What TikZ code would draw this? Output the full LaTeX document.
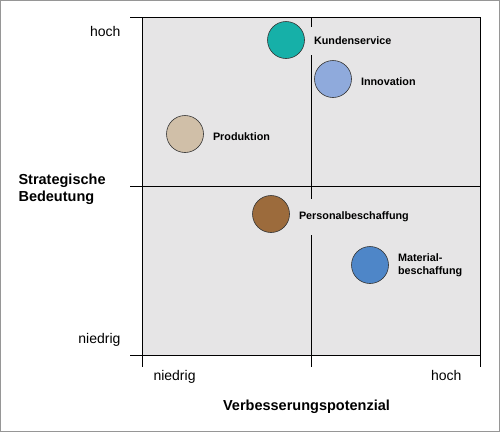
\documentclass[tikz,border=0pt]{standalone}
\usepackage{fontspec}
\setmainfont{Liberation Sans}
\usetikzlibrary{positioning}
\definecolor{feldgrau}{RGB}{230,229,230}
\definecolor{rahmengrau}{RGB}{150,150,150}
\definecolor{kundenfarbe}{RGB}{22,176,168}
\definecolor{innofarbe}{RGB}{143,170,220}
\definecolor{prodfarbe}{RGB}{208,191,168}
\definecolor{persfarbe}{RGB}{156,107,60}
\definecolor{matfarbe}{RGB}{78,134,200}
\tikzset{
  punkt/.style={circle, draw=black!80, line width=0.6pt, minimum size=37pt, inner sep=0pt},
  bereich/.style={font=\bfseries\fontsize{10.8}{13}\selectfont, fill=feldgrau, inner xsep=5pt, inner ysep=10pt, align=left, right=4pt of #1},
  achse/.style={font=\fontsize{14}{16}\selectfont},
  titel/.style={font=\bfseries\fontsize{14.5}{16.5}\selectfont, align=left},
}

\begin{document}
\begin{tikzpicture}[x=1pt, y=-1pt]
		%%%%% START %%%%%
		\useasboundingbox (0, 0) rectangle (500, 432);
		\draw[rahmengrau, line width=1pt] (0.5, 0.5) rectangle (499.5, 431.5);
		
		\fill[feldgrau] (142, 17) rectangle (480, 355);
		
		\draw[line width=0.8pt] (130, 17) -- (480, 17);
		\draw[line width=0.8pt] (130, 186) -- (480, 186);
		\draw[line width=0.8pt] (130, 355) -- (480, 355);
		\draw[line width=0.8pt] (142, 17) -- (142, 367);
		\draw[line width=0.8pt] (311, 17) -- (311, 367);
		\draw[line width=0.8pt] (480, 17) -- (480, 367);
		
		\node[punkt, fill=kundenfarbe] (kunden) at (286, 40) {};
		\node[punkt, fill=innofarbe] (inno) at (333, 79) {};
		\node[punkt, fill=prodfarbe] (prod) at (185, 134) {};
		\node[punkt, fill=persfarbe] (pers) at (271, 214) {};
		\node[punkt, fill=matfarbe] (mat) at (370, 265) {};
		
		\node[bereich=kunden, yshift=-1pt] (kundenText) {Kundenservice};
		\node[bereich=inno, yshift=-2.5pt] (innoText) {Innovation};
		\node[bereich=prod, yshift=-3pt] (prodText) {Produktion};
		\node[bereich=pers, inner ysep=13pt, yshift=-3pt] (persText) {Personalbeschaffung};
		\node[bereich=mat, yshift=-0.5pt] (matText) {Material-\\beschaffung};
		
		\node[achse, anchor=base east] (yHoch) at (124, 36) {hoch};
		\node[achse, anchor=base east] (yNiedrig) at (124, 343.5) {niedrig};
		\node[achse, anchor=base west] (xNiedrig) at (150, 380.5) {niedrig};
		\node[achse, anchor=base east] (xHoch) at (465, 380.5) {hoch};
		
		\node[titel, anchor=north west] (yTitel) at (15, 170.5) {Strategische\\Bedeutung};
		\node[titel, anchor=base] (xTitel) at (306.5, 410) {Verbesserungspotenzial};
		%%%%% END %%%%%
	\end{tikzpicture}
\end{document}
